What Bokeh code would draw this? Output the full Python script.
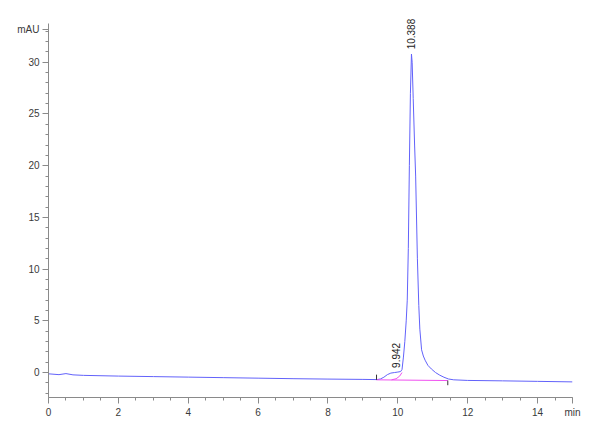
from math import pi

from bokeh.core.properties import value
from bokeh.embed import file_html
from bokeh.models import ColumnDataSource, FixedTicker
from bokeh.plotting import figure
from bokeh.resources import INLINE

# chromatogram trace (min, mAU)
time_min = [0.0, 0.3, 0.5, 0.7, 1.0, 2.0, 3.0, 4.0, 5.0, 6.0, 7.0, 8.0, 9.0,
            9.4, 9.5, 9.6, 9.7, 9.8, 9.9, 10.0, 10.08, 10.12, 10.16, 10.2,
            10.24, 10.27, 10.3, 10.33, 10.36, 10.39, 10.41, 10.44, 10.48,
            10.51, 10.56, 10.6, 10.63, 10.68, 10.73, 10.78, 10.86, 10.96,
            11.08, 11.2, 11.32, 11.45, 11.6, 12.0, 13.0, 14.0, 15.0]
signal_mau = [-0.12, -0.2, -0.1, -0.22, -0.27, -0.34, -0.39, -0.44, -0.49,
              -0.54, -0.59, -0.63, -0.66, -0.68, -0.62, -0.45, -0.2, -0.05,
              0.0, 0.05, 0.1, 0.3, 1.5, 3.0, 5.0, 7.0, 12.0, 20.0, 27.0,
              30.8, 30.0, 26.5, 22.0, 19.0, 11.0, 6.5, 4.2, 2.2, 1.6, 1.2,
              0.7, 0.35, 0.0, -0.25, -0.45, -0.62, -0.7, -0.76, -0.8, -0.85,
              -0.9]

# integration baseline (pink)
base_time = [9.39, 11.43]
base_mau = [-0.7, -0.77]
drop_time = [9.82, 9.95, 10.05, 10.12]
drop_mau = [-0.7, -0.6, -0.35, 0.0]

# peak labels
peak_rt = [9.942, 10.388]
peak_top = [0.0, 30.8]
peak_text = ["9.942", "10.388"]

font = "Liberation Sans"
grey = "#8a8a8a"

p = figure(width=600, height=440, x_range=(0, 15), y_range=(-2.41, 35.2),
           output_backend="svg", toolbar_location=None,
           min_border_left=48, min_border_right=28,
           min_border_top=8, min_border_bottom=43)
p.outline_line_color = None
p.grid.grid_line_color = None
p.background_fill_color = "white"

p.line(time_min, signal_mau, line_color="#6262fa", line_width=1)
p.line(base_time, base_mau, line_color="#f050f0", line_width=1)
p.line(drop_time, drop_mau, line_color="#f050f0", line_width=1)

# start / end marks of the integration (start mark up, end mark down)
p.segment(x0=base_time, y0=base_mau,
          x1=base_time, y1=[base_mau[0] + 0.5, base_mau[1] - 0.45],
          line_color="#333333", line_width=1)

src = ColumnDataSource(dict(x=peak_rt, y=[t + 0.45 for t in peak_top],
                            txt=peak_text))
p.text(x="x", y="y", text="txt", source=src, angle=pi / 2,
       text_align="left", text_baseline="middle",
       text_font=value(font), text_font_size="10px", text_color="#222222")

p.xaxis.ticker = FixedTicker(ticks=[0, 2, 4, 6, 8, 10, 12, 14, 15],
                             minor_ticks=[i * 0.5 for i in range(31)])
p.xaxis.major_label_overrides = {15: "min"}
p.yaxis.ticker = FixedTicker(ticks=[0, 5, 10, 15, 20, 25, 30, 33.2],
                             minor_ticks=list(range(-2, 34)))
p.yaxis.major_label_overrides = {33.2: "mAU"}
p.yaxis.bounds = (-2.41, 33.76)

for ax in (p.xaxis, p.yaxis):
    ax.axis_line_color = grey
    ax.major_tick_line_color = grey
    ax.minor_tick_line_color = grey
    ax.major_tick_out = 6
    ax.major_tick_in = 0
    ax.minor_tick_out = 3
    ax.minor_tick_in = 0
    ax.major_label_text_font = font
    ax.major_label_text_font_size = "10px"
    ax.major_label_text_color = "#3a3a3a"
    ax.major_label_standoff = 3

open("out.html", "w").write(file_html(p, INLINE))
